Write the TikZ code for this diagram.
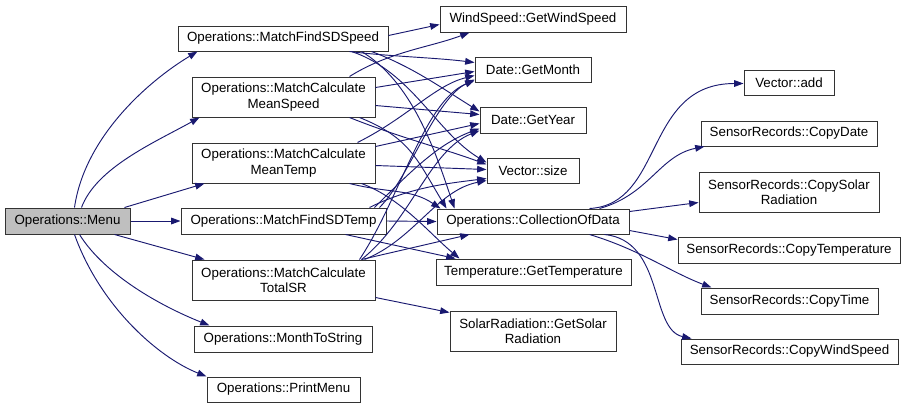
\documentclass[tikz,border=0pt]{standalone}
\usepackage{fontspec}
\setmainfont{Liberation Sans}
\usetikzlibrary{arrows.meta,calc}
\definecolor{edgeblue}{HTML}{191970}
\definecolor{menugray}{HTML}{BFBFBF}
\begin{document}
\begin{tikzpicture}[x=0.75pt,y=-0.75pt,
  box/.style={draw=black!80, line width=0.75pt, fill=white, font=\fontsize{10}{11.5}\selectfont, align=center, inner sep=0pt},
  e/.style={draw=edgeblue, line width=0.7pt, -{Triangle[length=7pt,width=5pt]}}]
\useasboundingbox (0,0) rectangle (905,408);
% left
\node[box, fill=menugray, minimum width=93.75pt, minimum height=19.5pt] (menu) at (67.5,221) {Operations::Menu};
\node[box, minimum width=157.5pt, minimum height=18.75pt] (sdspeed) at (283,38.5) {Operations::MatchFindSDSpeed};
\node[box, minimum width=137.25pt, minimum height=30pt] (meanspeed) at (283.5,97) {Operations::MatchCalculate\\MeanSpeed};
\node[box, minimum width=137.25pt, minimum height=30pt] (meantemp) at (283.5,163) {Operations::MatchCalculate\\MeanTemp};
\node[box, minimum width=153.75pt, minimum height=19.5pt] (sdtemp) at (283.5,221) {Operations::MatchFindSDTemp};
\node[box, minimum width=137.25pt, minimum height=30pt] (totalsr) at (283.5,280) {Operations::MatchCalculate\\TotalSR};
\node[box, minimum width=133.5pt, minimum height=19.5pt] (month) at (283,339) {Operations::MonthToString};
\node[box, minimum width=114.75pt, minimum height=18.75pt] (print) at (283.5,389.5) {Operations::PrintMenu};
% middle
\node[box, minimum width=139.5pt, minimum height=19.5pt] (wind) at (533,19) {WindSpeed::GetWindSpeed};
\node[box, minimum width=87pt, minimum height=18.75pt] (gmonth) at (533,69.5) {Date::GetMonth};
\node[box, minimum width=79.5pt, minimum height=19.5pt] (gyear) at (533,120) {Date::GetYear};
\node[box, minimum width=69pt, minimum height=18.75pt] (size) at (533,170.5) {Vector::size};
\node[box, minimum width=144pt, minimum height=18.75pt] (coll) at (533,221.5) {Operations::CollectionOfData};
\node[box, minimum width=146.25pt, minimum height=19.5pt] (gtemp) at (533.5,272) {Temperature::GetTemperature};
\node[box, minimum width=124.5pt, minimum height=30pt] (gsolar) at (533,331) {SolarRadiation::GetSolar\\Radiation};
% right
\node[box, minimum width=67.5pt, minimum height=18.75pt] (add) at (789,82.5) {Vector::add};
\node[box, minimum width=132pt, minimum height=18.75pt] (cdate) at (789,133.5) {SensorRecords::CopyDate};
\node[box, minimum width=135pt, minimum height=30pt] (csolar) at (789,192) {SensorRecords::CopySolar\\Radiation};
\node[box, minimum width=166.5pt, minimum height=19.5pt] (ctemp) at (789,250) {SensorRecords::CopyTemperature};
\node[box, minimum width=132.75pt, minimum height=19.5pt] (ctime) at (789.5,301) {SensorRecords::CopyTime};
\node[box, minimum width=162.75pt, minimum height=18.75pt] (cwind) at (789.5,351.5) {SensorRecords::CopyWindSpeed};

% Menu edges
\draw[e] ($(menu.north west)+(70,0)$) .. controls +(10,-70) and +(-50,30) .. ($(sdspeed.south west)+(20,0)$);
\draw[e] ($(menu.north west)+(77,0)$) .. controls +(15,-40) and +(-45,25) .. ($(meanspeed.south west)+(8,0)$);
\draw[e] ($(menu.north west)+(120,0)$) -- ($(meantemp.south west)+(13,0)$);
\draw[e] (menu.east) -- (sdtemp.west);
\draw[e] ($(menu.south west)+(110,0)$) -- ($(totalsr.north west)+(13,0)$);
\draw[e] ($(menu.south west)+(75,0)$) .. controls +(25,40) and +(-50,-20) .. ($(month.north west)+(16,0)$);
\draw[e] ($(menu.south west)+(70,0)$) .. controls +(25,70) and +(-50,-20) .. ($(print.north west)+(0,0)$);

% sdspeed
\draw[e] ($(sdspeed.north east)+(0,10)$) -- ($(wind.south west)+(0,-8)$);
\draw[e] ($(sdspeed.south west)+(172,0)$) .. controls +(40,5) and +(-40,-5) .. ($(gmonth.north west)+(0,6)$);
\draw[e] ($(sdspeed.south west)+(194,0)$) .. controls +(40,15) and +(-40,-25) .. ($(gyear.north west)+(0,5)$);
\draw[e] ($(sdspeed.south west)+(174,0)$) .. controls +(60,20) and +(-50,-30) .. ($(size.north west)+(0,5)$);
\draw[e] ($(sdspeed.south west)+(184,0)$) .. controls +(50,30) and +(-20,-60) .. ($(coll.north west)+(18,0)$);

% meanspeed
\draw[e] ($(meanspeed.north west)+(158,0)$) .. controls +(40,-25) and +(-40,15) .. ($(wind.south west)+(30,0)$);
\draw[e] ($(meanspeed.north east)+(0,11)$) -- ($(gmonth.north west)+(0,15)$);
\draw[e] ($(meanspeed.north east)+(0,29)$) -- ($(gyear.north west)+(0,8)$);
\draw[e] ($(meanspeed.south west)+(158,0)$) .. controls +(50,20) and +(-40,-15) .. ($(size.north west)+(0,7)$);
\draw[e] ($(meanspeed.south west)+(168,0)$) .. controls +(50,20) and +(-30,-50) .. ($(coll.north west)+(10,0)$);

% meantemp
\draw[e] ($(meantemp.north west)+(166,0)$) .. controls +(50,-25) and +(-40,10) .. ($(gmonth.north west)+(0,19)$);
\draw[e] ($(meantemp.north east)+(0,4)$) -- ($(gyear.north west)+(0,17)$);
\draw[e] ($(meantemp.north east)+(0,23)$) -- ($(size.north west)+(0,12)$);
\draw[e] ($(meantemp.south west)+(170,0)$) .. controls +(40,15) and +(-30,-25) .. ($(gtemp.north west)+(24,0)$);
\draw[e] ($(meantemp.south west)+(158,0)$) .. controls +(40,10) and +(-30,-20) .. ($(coll.north west)+(4,0)$);

% sdtemp
\draw[e] (sdtemp.east) -- (coll.west);
\draw[e] ($(sdtemp.south west)+(165,0)$) -- ($(gtemp.north west)+(20,0)$);
\draw[e] ($(sdtemp.north west)+(199,0)$) .. controls +(30,-30) and +(-40,20) .. ($(gmonth.south west)+(0,-3)$);
\draw[e] ($(sdtemp.north west)+(194,0)$) .. controls +(40,-40) and +(-40,15) .. ($(gyear.south west)+(0,-5)$);
\draw[e] ($(sdtemp.north west)+(189,0)$) .. controls +(40,-20) and +(-40,5) .. ($(size.south west)+(0,-5)$);

% totalsr
\draw[e] ($(totalsr.south east)+(0,-3)$) -- ($(gsolar.north west)+(0,2)$);
\draw[e] ($(totalsr.north west)+(170,0)$) -- ($(coll.south west)+(33,0)$);
\draw[e] ($(totalsr.north west)+(173,0)$) .. controls +(50,-20) and +(-50,10) .. ($(size.south west)+(0,-3)$);
\draw[e] ($(totalsr.north west)+(170,0)$) .. controls +(50,-40) and +(-50,20) .. ($(gyear.south west)+(0,-3)$);
\draw[e] ($(totalsr.north west)+(168,0)$) .. controls +(40,-60) and +(-50,20) .. ($(gmonth.south west)+(0,-2)$);

% collection
\draw[e] ($(coll.north west)+(153,0)$) .. controls +(75,-4) and +(-100,0) .. ($(add.north west)+(0,14)$);
\draw[e] ($(coll.north west)+(163,0)$) .. controls +(50,-14) and +(-45,9) .. ($(cdate.south west)+(4,0)$);
\draw[e] ($(coll.north east)+(0,3)$) -- ($(csolar.south west)+(0,-10)$);
\draw[e] ($(coll.south east)+(0,-4)$) -- ($(ctemp.north west)+(0,3)$);
\draw[e] ($(coll.south west)+(153,0)$) .. controls +(50,15) and +(-40,-15) .. ($(ctime.north west)+(11,0)$);
\draw[e] ($(coll.south west)+(168,0)$) .. controls +(60,6) and +(-42,-9) .. ($(cwind.north west)+(11,0)$);
\end{tikzpicture}
\end{document}
